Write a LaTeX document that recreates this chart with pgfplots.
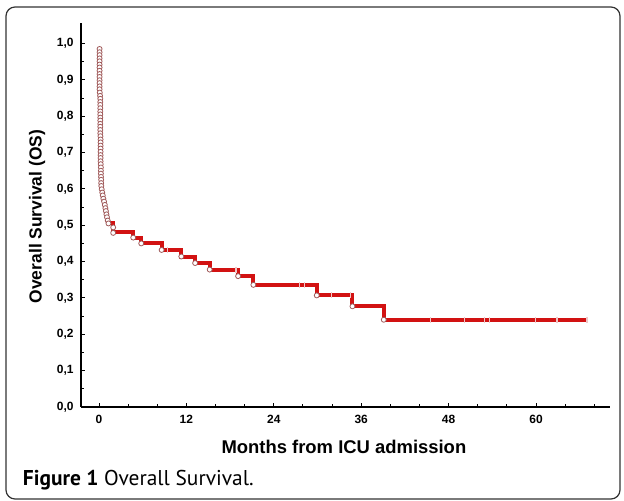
\documentclass[border=0pt]{standalone}
\usepackage{pgfplots}
\pgfplotsset{compat=1.18}
\usepackage{fontspec}
\setmainfont{Liberation Sans}
\newfontfamily\capfont{PT Sans}
\definecolor{kmred}{RGB}{210,18,18}
\definecolor{circ}{RGB}{160,90,90}
\definecolor{cens}{RGB}{238,200,200}
\begin{document}
\begin{tikzpicture}
\begin{axis}[
  at={(81bp,94bp)}, anchor=south west,
  scale only axis, width=529bp, height=384bp,
  xmin=-2.47, xmax=70.16, ymin=0, ymax=1.0564,
  axis lines=left, axis line style={-, line width=1.2bp, black},
  xtick={0,12,24,36,48,60},
  minor xtick={4,8,16,20,28,32,40,44,52,56,64,68},
  ytick={0,0.1,0.2,0.3,0.4,0.5,0.6,0.7,0.8,0.9,1.0},
  minor ytick={0.05,0.15,0.25,0.35,0.45,0.55,0.65,0.75,0.85,0.95},
  tick align=inside,
  major tick length=4bp, minor tick length=2.5bp,
  tick style={black, line width=0.9bp},
  /pgf/number format/assume math mode=true,
  ticklabel style={font=\bfseries\fontsize{12}{12}\selectfont},
  yticklabel style={xshift=-4bp, /pgf/number format/.cd, use comma, fixed, fixed zerofill, precision=1},
  xticklabel style={yshift=-5bp},
  xlabel={Months from ICU admission},
  ylabel={Overall Survival (OS)},
  xlabel style={at={(axis description cs:0.497,-0.104)}, anchor=center, font=\bfseries\fontsize{18.5}{18.5}\selectfont},
  ylabel style={at={(axis description cs:-0.083,0.496)}, anchor=center, font=\bfseries\fontsize{17.5}{17.5}\selectfont},
  clip=false,
]
\addplot[kmred, line width=4bp, const plot] coordinates {
(1.3,0.505) (1.95,0.481) (4.7,0.466) (5.8,0.450) (8.6,0.432) (11.3,0.414)
(13.2,0.396) (15.2,0.378) (19.1,0.360) (21.2,0.336) (29.9,0.307)
(34.8,0.277) (39.1,0.240) (67.0,0.240)
};
\addplot[only marks, mark=|, mark size=3bp, cens, line width=1.5bp] coordinates {
(9.4,0.432) (18.8,0.378) (27.5,0.336) (28.2,0.336) (31.9,0.307) (34.5,0.307)
(45.5,0.240) (50.2,0.240) (52.9,0.240) (53.6,0.240) (59.9,0.240) (62.9,0.240) (67.0,0.240)
};
\addplot[only marks, mark=*, mark size=2.5bp, mark options={draw=circ, fill=white, line width=0.8bp}] coordinates {
(0.08,0.985) (0.08,0.976) (0.08,0.968) (0.08,0.959) (0.08,0.951) (0.08,0.942)
(0.08,0.934) (0.08,0.925) (0.08,0.916) (0.08,0.908) (0.08,0.899) (0.08,0.891)
(0.08,0.882) (0.08,0.874) (0.11,0.865) (0.15,0.856) (0.18,0.848) (0.18,0.839)
(0.18,0.831) (0.18,0.822) (0.18,0.813) (0.18,0.805) (0.18,0.796) (0.18,0.788)
(0.18,0.779) (0.18,0.771) (0.18,0.762) (0.18,0.753) (0.20,0.745) (0.22,0.736)
(0.22,0.728) (0.22,0.719) (0.22,0.711) (0.22,0.702) (0.22,0.693) (0.22,0.685)
(0.22,0.676) (0.24,0.668) (0.26,0.659) (0.26,0.650) (0.26,0.642) (0.28,0.633)
(0.30,0.625) (0.30,0.616) (0.32,0.608) (0.37,0.599) (0.45,0.590) (0.52,0.582)
(0.60,0.573) (0.70,0.565) (0.80,0.556) (0.88,0.547) (0.95,0.539) (1.02,0.530)
(1.10,0.522) (1.20,0.513) (1.30,0.505)
(1.95,0.494) (1.95,0.479) (4.7,0.466) (5.8,0.450) (8.6,0.432) (11.3,0.414)
(13.2,0.396) (15.2,0.378) (19.1,0.360) (21.2,0.336) (29.9,0.307) (34.8,0.277) (39.1,0.240)
};
\end{axis}
\draw[rounded corners=9bp, line width=1.2bp, black!80] (6bp,2bp) rectangle (620bp,494bp);
\node[anchor=west, inner sep=0pt, font=\capfont\fontsize{21.5}{21.5}\selectfont] at (22.7bp,21bp) {\textbf{Figure 1} Overall Survival.};
\pgfresetboundingbox
\path[use as bounding box] (0bp,0bp) rectangle (624bp,501bp);
\end{tikzpicture}
\end{document}
